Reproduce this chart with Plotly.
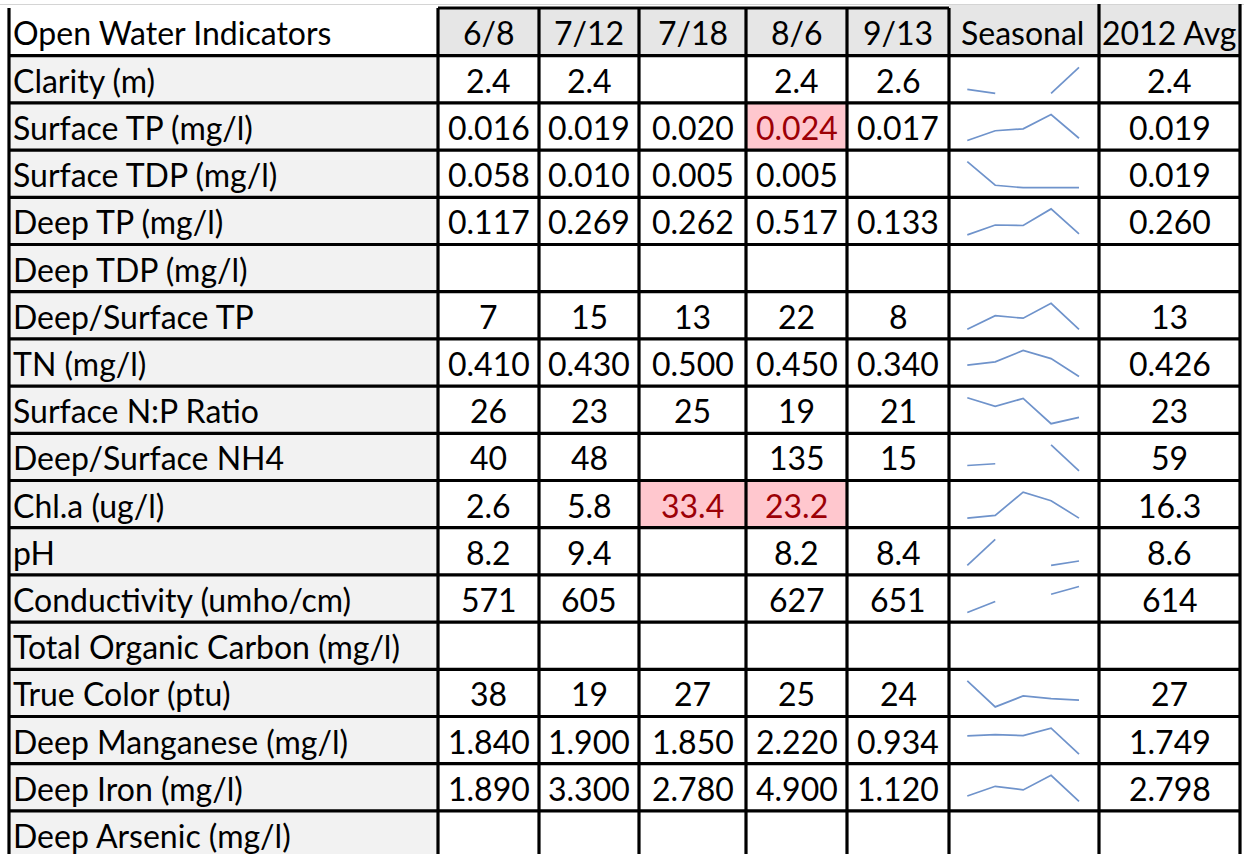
import plotly.graph_objects as go

W, H = 1244, 854

# ---------------- data ----------------
header_label = "Open Water Indicators"
dates = ["6/8", "7/12", "7/18", "8/6", "9/13"]
seasonal_header = "Seasonal"
avg_header = "2012 Avg"

labels = [
    "Clarity (m)", "Surface TP (mg/l)", "Surface TDP (mg/l)", "Deep TP (mg/l)",
    "Deep TDP (mg/l)", "Deep/Surface TP", "TN (mg/l)", "Surface N:P Ratio",
    "Deep/Surface NH4", "Chl.a (ug/l)", "pH", "Conductivity (umho/cm)",
    "Total Organic Carbon (mg/l)", "True Color (ptu)", "Deep Manganese (mg/l)",
    "Deep Iron (mg/l)", "Deep Arsenic (mg/l)",
]
col_6_8 = ["2.4", "0.016", "0.058", "0.117", "", "7", "0.410", "26", "40", "2.6",
           "8.2", "571", "", "38", "1.840", "1.890", ""]
col_7_12 = ["2.4", "0.019", "0.010", "0.269", "", "15", "0.430", "23", "48", "5.8",
            "9.4", "605", "", "19", "1.900", "3.300", ""]
col_7_18 = ["", "0.020", "0.005", "0.262", "", "13", "0.500", "25", "", "33.4",
            "", "", "", "27", "1.850", "2.780", ""]
col_8_6 = ["2.4", "0.024", "0.005", "0.517", "", "22", "0.450", "19", "135", "23.2",
           "8.2", "627", "", "25", "2.220", "4.900", ""]
col_9_13 = ["2.6", "0.017", "", "0.133", "", "8", "0.340", "21", "15", "",
            "8.4", "651", "", "24", "0.934", "1.120", ""]
avg_2012 = ["2.4", "0.019", "0.019", "0.260", "", "13", "0.426", "23", "59", "16.3",
            "8.6", "614", "", "27", "1.749", "2.798", ""]

# sparkline series (values read from the seasonal mini-charts)
seasonal = [
    [2.43, 2.40, None, 2.40, 2.60],
    [0.016, 0.019, 0.0196, 0.024, 0.0167],
    [0.058, 0.010, 0.005, 0.005, 0.005],
    [0.117, 0.269, 0.262, 0.517, 0.133],
    None,
    [7.3, 14.8, 13.4, 21.6, 7.3],
    [0.410, 0.430, 0.500, 0.450, 0.340],
    [25.6, 23.4, 25.4, 19.0, 20.6],
    [40, 48, None, 135, 15],
    [2.6, 5.8, 33.4, 23.2, 2.6],
    [8.2, 9.4, None, 8.2, 8.4],
    [571, 605, None, 627, 651],
    None,
    [38, 19, 27, 25, 24],
    [1.840, 1.900, 1.850, 2.220, 0.934],
    [1.890, 3.300, 2.780, 4.900, 1.120],
    None,
]

# conditional-format highlighted cells: (row, date column)
highlight = [(1, 3), (9, 2), (9, 3)]

# ---------------- geometry (pixels) ----------------
xs = [9, 438, 539, 639, 746, 847, 949, 1099, 1240]
head_top = 8
row0 = 55.7
pitch = 47.2
n_rows = len(labels)
row_tops = [row0 + pitch * k for k in range(n_rows)]

FONT = "Lato, 'Open Sans', sans-serif"
FS = 32
LINE_W = 3.2
SPARK_COLOR = "#6f93cb"


def px(x):
    return x / W


def py(y):
    return 1 - y / H


shapes = []
annotations = []


def rect(x0, y0, x1, y1, color):
    shapes.append(dict(type="rect", xref="paper", yref="paper",
                       x0=px(x0), x1=px(x1), y0=py(y1), y1=py(y0),
                       fillcolor=color, line=dict(width=0), layer="below"))


def hline(y, x0, x1, color="black", w=LINE_W):
    shapes.append(dict(type="line", xref="paper", yref="paper",
                       x0=px(x0), x1=px(x1), y0=py(y), y1=py(y),
                       line=dict(color=color, width=w)))


def vline(x, y0, y1, color="black", w=LINE_W):
    shapes.append(dict(type="line", xref="paper", yref="paper",
                       x0=px(x), x1=px(x), y0=py(y0), y1=py(y1),
                       line=dict(color=color, width=w)))


def text(s, x, y, anchor="center", color="black"):
    if s == "":
        return
    annotations.append(dict(text=s, xref="paper", yref="paper",
                            x=px(x), y=py(y), xanchor=anchor, yanchor="middle",
                            showarrow=False,
                            font=dict(family=FONT, size=FS, color=color)))


# backgrounds
rect(xs[1], head_top, xs[6], row0, "#e6e6e6")
rect(xs[6], 5, xs[8], row0, "#e6e6e6")
rect(xs[0], row0, xs[1], H + 10, "#f2f2f2")
for (r, c) in highlight:
    t = row_tops[r]
    rect(xs[1 + c], t, xs[2 + c], t + pitch, "#ffc7ce")

# excel gridline at very top
hline(4.5, 0, W, color="#d4d4d4", w=1)

# grid lines
hline(head_top, xs[1], xs[6])
for t in row_tops:
    hline(t, xs[0], xs[8])
vline(xs[0], head_top, H + 10)
for x in xs[1:6]:
    vline(x, head_top, H + 10)
vline(xs[6], head_top, H + 10)
vline(xs[7], 4, H + 10)
vline(xs[8], 4, H + 10)

# header text
head_mid = (head_top + row0) / 2 + 1
text(header_label, 11, head_mid, anchor="left")
for i, d in enumerate(dates):
    text(d, (xs[1 + i] + xs[2 + i]) / 2, head_mid)
text(seasonal_header, (xs[6] + xs[7]) / 2 - 2, head_mid)
text(avg_header, (xs[7] + xs[8]) / 2, head_mid)

# body text
columns = [col_6_8, col_7_12, col_7_18, col_8_6, col_9_13]
for r in range(n_rows):
    mid = row_tops[r] + pitch / 2 + 1
    text(labels[r], 11, mid, anchor="left")
    for c, col in enumerate(columns):
        color = "#9c0006" if (r, c) in highlight else "black"
        text(col[r], (xs[1 + c] + xs[2 + c]) / 2, mid, color=color)
    text(avg_2012[r], (xs[7] + xs[8]) / 2, mid)

fig = go.Figure()

# sparklines as small subplots
layout_axes = {}
spark_x0, spark_x1 = 967.3, 1079.0
pad_px = 2.0
k = 0
for r, vals in enumerate(seasonal):
    if not vals:
        continue
    k += 1
    t = row_tops[r]
    y_top = t + 11.6
    y_bot = t + pitch - 9.6
    nums = [v for v in vals if v is not None]
    vmin, vmax = min(nums), max(nums)
    span = vmax - vmin if vmax > vmin else 1.0
    ypad = span * pad_px / (y_bot - y_top)
    xunit = (spark_x1 - spark_x0) / 4
    xpad = pad_px / xunit
    xa = "xaxis" if k == 1 else f"xaxis{k}"
    ya = "yaxis" if k == 1 else f"yaxis{k}"
    fig.add_trace(go.Scatter(
        x=list(range(5)), y=vals, mode="lines", connectgaps=False,
        line=dict(color=SPARK_COLOR, width=1.7),
        xaxis="x" if k == 1 else f"x{k}", yaxis="y" if k == 1 else f"y{k}",
        hoverinfo="skip", showlegend=False))
    layout_axes[xa] = dict(domain=[px(spark_x0 - pad_px), px(spark_x1 + pad_px)],
                           range=[-xpad, 4 + xpad], visible=False, fixedrange=True,
                           anchor="y" if k == 1 else f"y{k}")
    layout_axes[ya] = dict(domain=[py(y_bot + pad_px), py(y_top - pad_px)],
                           range=[vmin - ypad, vmax + ypad], visible=False,
                           fixedrange=True, anchor="x" if k == 1 else f"x{k}")

fig.update_layout(
    width=W, height=H,
    margin=dict(l=0, r=0, t=0, b=0),
    paper_bgcolor="white", plot_bgcolor="rgba(0,0,0,0)",
    shapes=shapes, annotations=annotations,
    showlegend=False,
    **layout_axes,
)

fig.write_html("out.html",
               config={"displayModeBar": False},
               post_script="document.body.style.margin='0';document.body.style.overflow='hidden';")
